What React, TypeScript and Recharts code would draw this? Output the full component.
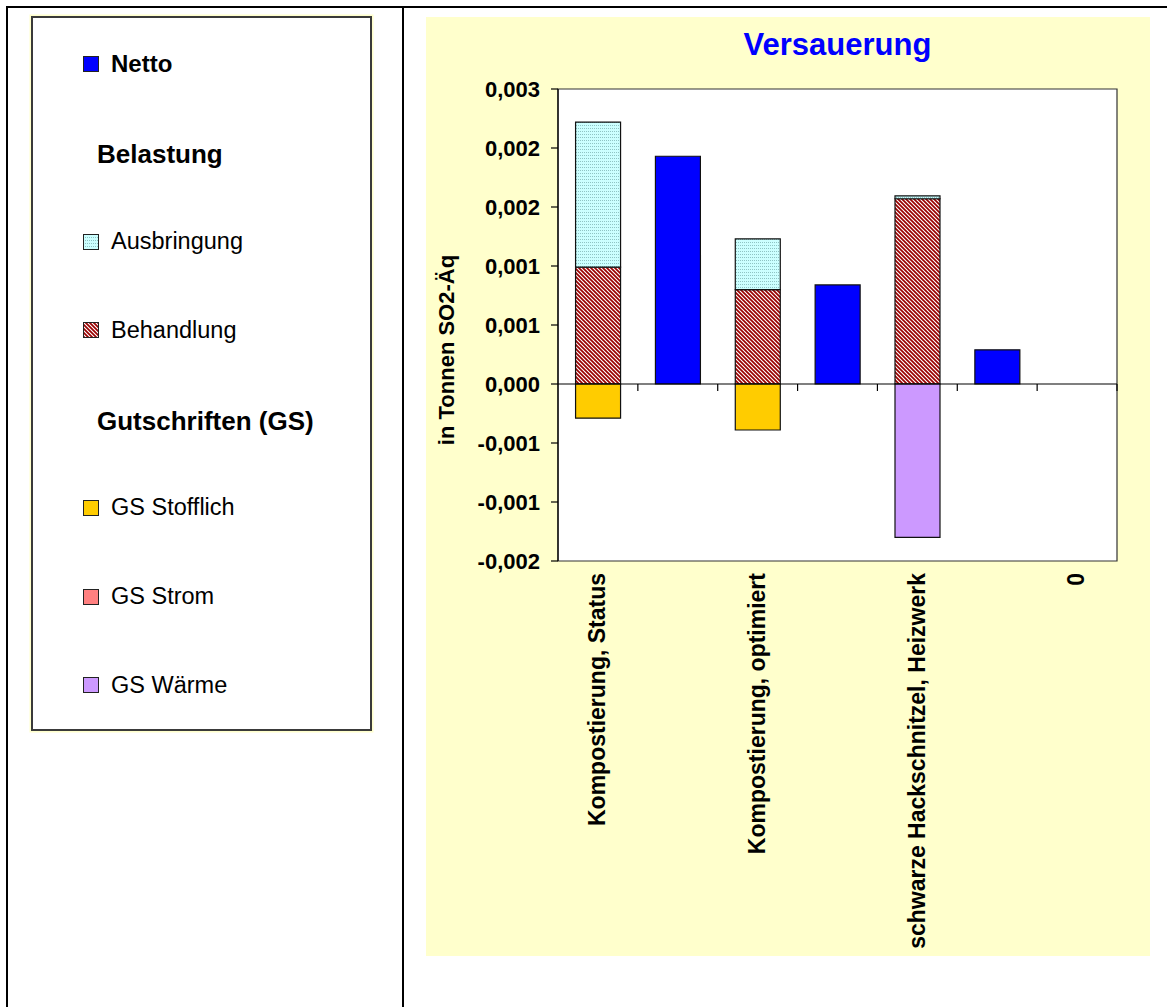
import { BarChart, Bar, XAxis, YAxis, CartesianGrid, ReferenceLine, ReferenceArea } from "recharts";

const FONT = '"Liberation Sans", Arial, Helvetica, sans-serif';

// Every variant is followed by its net value in its own column
const categories = [
  "Kompostierung, Status",
  "",
  "Kompostierung, optimiert",
  "",
  "schwarze Hackschnitzel, Heizwerk",
  "",
  "0",
];

// t SO2-Äq per column
const netto = [null, 0.00193, null, 0.00084, null, 0.00029, null];
const behandlung = [0.00099, null, 0.0008, null, 0.00157, null, null];
const ausbringung = [0.00123, null, 0.00043, null, 0.000025, null, null];
const gsStofflich = [-0.00029, null, -0.00039, null, null, null, null];
const gsStrom = [null, null, null, null, null, null, null];
const gsWaerme = [null, null, null, null, -0.0013, null, null];

const yTicks = [-0.0015, -0.001, -0.0005, 0, 0.0005, 0.001, 0.0015, 0.002, 0.0025];

interface SeriesDef {
  key: string;
  name: string;
  fill: string;
  values: (number | null)[];
}

// stacking order: positives bottom-up, credits downward from zero
const series: SeriesDef[] = [
  { key: "netto", name: "Netto", fill: "#0000FF", values: netto },
  { key: "behandlung", name: "Behandlung", fill: "url(#pat-behandlung)", values: behandlung },
  { key: "ausbringung", name: "Ausbringung", fill: "url(#pat-ausbringung)", values: ausbringung },
  { key: "gsStofflich", name: "GS Stofflich", fill: "#FFCC00", values: gsStofflich },
  { key: "gsStrom", name: "GS Strom", fill: "#FF8080", values: gsStrom },
  { key: "gsWaerme", name: "GS Wärme", fill: "#CC99FF", values: gsWaerme },
];

const chartData = categories.map((name, i) => {
  const row: Record<string, string | number | null> = { name };
  series.forEach((s) => {
    row[s.key] = s.values[i];
  });
  return row;
});

// legend column: series entries plus two group headings
const legendRows: { label: string; seriesKey?: string; bold?: boolean }[] = [
  { label: "Netto", seriesKey: "netto", bold: true },
  { label: "Belastung", bold: true },
  { label: "Ausbringung", seriesKey: "ausbringung" },
  { label: "Behandlung", seriesKey: "behandlung" },
  { label: "Gutschriften (GS)", bold: true },
  { label: "GS Stofflich", seriesKey: "gsStofflich" },
  { label: "GS Strom", seriesKey: "gsStrom" },
  { label: "GS Wärme", seriesKey: "gsWaerme" },
];

// Excel-style rounding to three decimals (0,0025 -> 0,003)
const fmtTick = (v: number) => {
  const r = (Math.sign(v) * Math.round(Math.abs(v) * 1000 + 1e-9)) / 1000;
  return (r === 0 ? 0 : r).toFixed(3).replace(".", ",");
};

function Patterns() {
  return (
    <svg width={0} height={0} style={{ position: "absolute" }}>
      <defs>
        <pattern id="pat-behandlung" patternUnits="userSpaceOnUse" width={4} height={4}>
          <rect width={4} height={4} fill="#9A0000" />
          <path d="M-1,-1 L5,5 M-1,3 L1,5 M3,-1 L5,1" stroke="#FFFFFF" strokeWidth={1.1} />
        </pattern>
        <pattern id="pat-ausbringung" patternUnits="userSpaceOnUse" width={2} height={3}>
          <rect width={2} height={3} fill="#CCFFFF" />
          <rect x={0} y={0} width={1} height={1} fill="#8FC4C4" />
        </pattern>
      </defs>
    </svg>
  );
}

// category labels, rotated, hanging below the plot area
const CategoryTick = (props: any) => {
  const { x, y, payload } = props;
  if (!payload || !payload.value) return <g />;
  return (
    <text
      x={x}
      y={y}
      transform={`rotate(-90, ${x}, ${y})`}
      textAnchor="end"
      dy="0.32em"
      fill="#000"
      fontSize={23}
      fontWeight={700}
      fontFamily={FONT}
    >
      {payload.value}
    </text>
  );
};

// value axis through zero with tick marks between the columns
const ZeroAxis = (props: any) => {
  const { x1, y1, x2, y2 } = props;
  const step = (x2 - x1) / categories.length;
  return (
    <g>
      <line x1={x1} y1={y1} x2={x2} y2={y2} stroke="#000" strokeWidth={1.2} />
      {categories.map((_, i) => {
        const x = x1 + step * (i + 1);
        return <line key={i} x1={x} x2={x} y1={y1} y2={y1 + 7} stroke="#000" strokeWidth={1.2} />;
      })}
    </g>
  );
};

const renderYTitle = (props: any) => {
  const vb = props.viewBox || { x: 0, y: 72, width: 132, height: 472 };
  const cx = vb.x + 20;
  const cy = vb.y + vb.height / 2 + 25;
  return (
    <text
      x={cx}
      y={cy}
      transform={`rotate(-90, ${cx}, ${cy})`}
      textAnchor="middle"
      dy="0.35em"
      fill="#000"
      fontSize={22}
      fontWeight={700}
      fontFamily={FONT}
    >
      in Tonnen SO2-Äq
    </text>
  );
};

function LegendSwatch({ fill }: { fill: string }) {
  return (
    <svg width={16} height={16} style={{ flexShrink: 0 }}>
      <rect x={0.5} y={0.5} width={15} height={15} fill={fill} stroke="#222" strokeWidth={1} />
    </svg>
  );
}

export default function App() {
  return (
    <div
      style={{
        position: "absolute",
        left: 0,
        top: 0,
        width: 1167,
        height: 1007,
        overflow: "hidden",
        background: "#FFFFFF",
        fontFamily: FONT,
      }}
    >
      <Patterns />

      {/* table frame */}
      <div style={{ position: "absolute", left: 6, top: 6, width: 1161, height: 2, background: "#000" }} />
      <div style={{ position: "absolute", left: 6, top: 6, width: 2, height: 1001, background: "#000" }} />
      <div style={{ position: "absolute", left: 402, top: 6, width: 2, height: 1001, background: "#000" }} />

      {/* legend box */}
      <div
        style={{
          position: "absolute",
          left: 31,
          top: 16,
          width: 341,
          height: 715,
          boxSizing: "border-box",
          border: "2px solid #3a3a3a",
          boxShadow: "0 0 0 1.5px #FFFFCC",
          background: "#FFFFFF",
        }}
      />
      {legendRows.map((row, i) => {
        const s = series.find((d) => d.key === row.seriesKey);
        const cy = 64 + i * 88.75;
        return (
          <div
            key={row.label}
            style={{
              position: "absolute",
              left: s ? 83 : 97,
              top: cy - 16 + (s ? 0 : 2),
              height: 32,
              display: "flex",
              alignItems: "center",
              gap: 12,
              whiteSpace: "nowrap",
              fontSize: s ? (row.bold ? 24 : 23.5) : 26,
              fontWeight: row.bold ? 700 : 400,
              color: "#000",
            }}
          >
            {s && <LegendSwatch fill={s.fill} />}
            <span>{row.label}</span>
          </div>
        );
      })}

      {/* chart panel */}
      <div
        style={{
          position: "absolute",
          left: 426,
          top: 17,
          width: 724,
          height: 939,
          background: "#FFFFCC",
        }}
      >
        <div
          style={{
            position: "absolute",
            left: 132,
            top: 12,
            width: 559,
            textAlign: "center",
            fontSize: 31,
            lineHeight: "31px",
            fontWeight: 700,
            color: "#0000FF",
          }}
        >
          Versauerung
        </div>
        <BarChart
          width={724}
          height={939}
          data={chartData}
          margin={{ top: 72, right: 33, left: 0, bottom: 0 }}
          stackOffset="sign"
          barCategoryGap="22%"
        >
          <CartesianGrid horizontal={false} vertical={false} fill="#FFFFFF" />
          <ReferenceArea y1={-0.0015} y2={0.0025} fill="none" stroke="#333" strokeWidth={1.2} />
          <XAxis
            dataKey="name"
            height={395}
            interval={0}
            axisLine={false}
            tickLine={false}
            tickSize={6}
            tickMargin={6}
            tick={<CategoryTick />}
          />
          <YAxis
            width={132}
            domain={[-0.0015, 0.0025]}
            ticks={yTicks}
            interval={0}
            allowDataOverflow
            tickFormatter={fmtTick}
            axisLine={{ stroke: "#000", strokeWidth: 1.2 }}
            tickLine={{ stroke: "#000", strokeWidth: 1.2 }}
            tickSize={7}
            tickMargin={11}
            tick={{ fill: "#000", fontSize: 22, fontWeight: 700, fontFamily: FONT }}
            label={renderYTitle}
          />
          {series.map((s) => (
            <Bar
              key={s.key}
              dataKey={s.key}
              name={s.name}
              stackId="total"
              fill={s.fill}
              stroke="#111"
              strokeWidth={1.2}
              isAnimationActive={false}
            />
          ))}
          <ReferenceLine y={0} shape={ZeroAxis} />
        </BarChart>
      </div>
    </div>
  );
}
